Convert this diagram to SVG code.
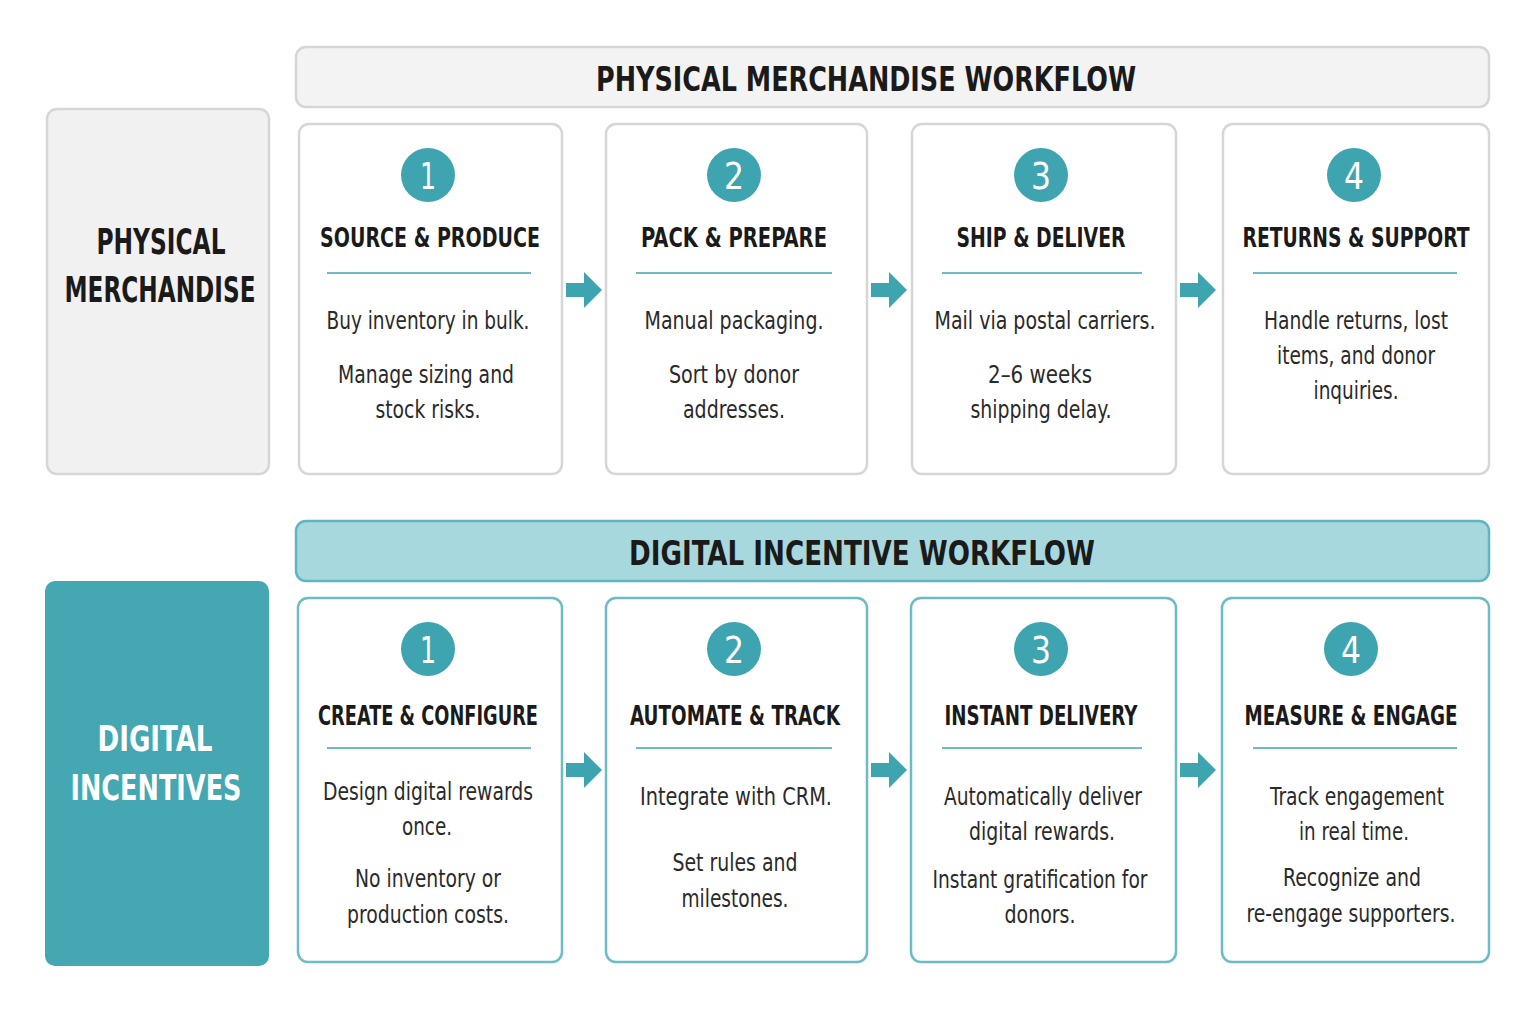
<svg xmlns="http://www.w3.org/2000/svg" width="1535" height="1013" viewBox="0 0 1535 1013">
<style>
text{font-family:"DejaVu Sans","Liberation Sans",sans-serif;font-stretch:condensed;text-anchor:middle;fill:#1a1a1a}
.card{fill:#fff;stroke:#d6d6d6;stroke-width:2.5}
.dcard{fill:#fff;stroke:#6bbcc4;stroke-width:2.5}
.num{fill:#3ea5b0}
.nt{fill:#fff;font-size:38px}
.ttl{font-size:27px;font-weight:bold}
.body{font-size:25px;fill:#2a2a2a}
.sep{stroke:#6bbcc4;stroke-width:2}
.arr{fill:#3ea5b0}
</style>
<rect width="1535" height="1013" fill="#fff"/>
<g id="phys-label"><rect x="47" y="109" width="222" height="365" rx="10" fill="#f1f1f1" stroke="#d6d6d6" stroke-width="2.5"/>
<text x="161" y="254" style="font-size:35px;font-weight:bold" textLength="129" lengthAdjust="spacingAndGlyphs">PHYSICAL</text><text x="160" y="302" style="font-size:35px;font-weight:bold" textLength="191" lengthAdjust="spacingAndGlyphs">MERCHANDISE</text></g>
<g id="phys-header"><rect x="296" y="47" width="1193" height="60" rx="10" fill="#f3f3f3" stroke="#d6d6d6" stroke-width="2.5"/>
<text x="866" y="91" style="font-size:34px;font-weight:bold" textLength="540" lengthAdjust="spacingAndGlyphs">PHYSICAL MERCHANDISE WORKFLOW</text></g>
<g id="p1"><rect class="card" x="299" y="124" width="263" height="350" rx="10"/><circle class="num" cx="428" cy="175" r="27"/><text class="nt" x="428" y="189" textLength="16" lengthAdjust="spacingAndGlyphs">1</text>
<text class="ttl" x="430" y="247" textLength="220" lengthAdjust="spacingAndGlyphs">SOURCE &amp; PRODUCE</text><line class="sep" x1="327" y1="273" x2="531" y2="273"/>
<text class="body" x="428" y="329" textLength="203" lengthAdjust="spacingAndGlyphs">Buy inventory in bulk.</text><text class="body" x="426" y="383" textLength="176" lengthAdjust="spacingAndGlyphs">Manage sizing and</text><text class="body" x="428" y="418" textLength="105" lengthAdjust="spacingAndGlyphs">stock risks.</text></g>
<g id="p2"><rect class="card" x="606" y="124" width="261" height="350" rx="10"/><circle class="num" cx="734" cy="175" r="27"/><text class="nt" x="734" y="189" textLength="20" lengthAdjust="spacingAndGlyphs">2</text>
<text class="ttl" x="734" y="247" textLength="186" lengthAdjust="spacingAndGlyphs">PACK &amp; PREPARE</text><line class="sep" x1="636" y1="273" x2="832" y2="273"/>
<text class="body" x="734" y="329" textLength="179" lengthAdjust="spacingAndGlyphs">Manual packaging.</text><text class="body" x="734" y="383" textLength="130" lengthAdjust="spacingAndGlyphs">Sort by donor</text><text class="body" x="734" y="418" textLength="102" lengthAdjust="spacingAndGlyphs">addresses.</text></g>
<g id="p3"><rect class="card" x="912" y="124" width="264" height="350" rx="10"/><circle class="num" cx="1041" cy="175" r="27"/><text class="nt" x="1041" y="189" textLength="20" lengthAdjust="spacingAndGlyphs">3</text>
<text class="ttl" x="1041" y="247" textLength="169" lengthAdjust="spacingAndGlyphs">SHIP &amp; DELIVER</text><line class="sep" x1="942" y1="273" x2="1142" y2="273"/>
<text class="body" x="1045" y="329" textLength="221" lengthAdjust="spacingAndGlyphs">Mail via postal carriers.</text><text class="body" x="1040" y="383" textLength="104" lengthAdjust="spacingAndGlyphs">2–6 weeks</text><text class="body" x="1041" y="418" textLength="141" lengthAdjust="spacingAndGlyphs">shipping delay.</text></g>
<g id="p4"><rect class="card" x="1223" y="124" width="266" height="350" rx="10"/><circle class="num" cx="1354" cy="175" r="27"/><text class="nt" x="1354" y="189" textLength="20" lengthAdjust="spacingAndGlyphs">4</text>
<text class="ttl" x="1356" y="247" textLength="227" lengthAdjust="spacingAndGlyphs">RETURNS &amp; SUPPORT</text><line class="sep" x1="1253" y1="273" x2="1457" y2="273"/>
<text class="body" x="1356" y="329" textLength="184" lengthAdjust="spacingAndGlyphs">Handle returns, lost</text><text class="body" x="1356" y="364" textLength="158" lengthAdjust="spacingAndGlyphs">items, and donor</text><text class="body" x="1356" y="399" textLength="85" lengthAdjust="spacingAndGlyphs">inquiries.</text></g>
<g id="dig-label"><rect x="45" y="581" width="224" height="385" rx="10" fill="#44a7b2"/>
<text x="155" y="751" style="font-size:35px;font-weight:bold;fill:#fff" textLength="115" lengthAdjust="spacingAndGlyphs">DIGITAL</text><text x="156" y="800" style="font-size:35px;font-weight:bold;fill:#fff" textLength="171" lengthAdjust="spacingAndGlyphs">INCENTIVES</text></g>
<g id="dig-header"><rect x="296" y="521" width="1193" height="60" rx="10" fill="#a6d8de" stroke="#5fb6c0" stroke-width="2.5"/>
<text x="862" y="565" style="font-size:34px;font-weight:bold" textLength="466" lengthAdjust="spacingAndGlyphs">DIGITAL INCENTIVE WORKFLOW</text></g>
<g id="d1"><rect class="dcard" x="298" y="598" width="264" height="364" rx="10"/><circle class="num" cx="428" cy="649" r="27"/><text class="nt" x="428" y="663" textLength="16" lengthAdjust="spacingAndGlyphs">1</text>
<text class="ttl" x="428" y="725" textLength="220" lengthAdjust="spacingAndGlyphs">CREATE &amp; CONFIGURE</text><line class="sep" x1="327" y1="748" x2="531" y2="748"/>
<text class="body" x="428" y="800" textLength="210" lengthAdjust="spacingAndGlyphs">Design digital rewards</text><text class="body" x="427" y="835" textLength="50" lengthAdjust="spacingAndGlyphs">once.</text><text class="body" x="428" y="887" textLength="146" lengthAdjust="spacingAndGlyphs">No inventory or</text><text class="body" x="428" y="923" textLength="162" lengthAdjust="spacingAndGlyphs">production costs.</text></g>
<g id="d2"><rect class="dcard" x="606" y="598" width="261" height="364" rx="10"/><circle class="num" cx="734" cy="649" r="27"/><text class="nt" x="734" y="663" textLength="20" lengthAdjust="spacingAndGlyphs">2</text>
<text class="ttl" x="735" y="725" textLength="210" lengthAdjust="spacingAndGlyphs">AUTOMATE &amp; TRACK</text><line class="sep" x1="636" y1="748" x2="832" y2="748"/>
<text class="body" x="736" y="805" textLength="192" lengthAdjust="spacingAndGlyphs">Integrate with CRM.</text><text class="body" x="735" y="871" textLength="125" lengthAdjust="spacingAndGlyphs">Set rules and</text><text class="body" x="735" y="907" textLength="107" lengthAdjust="spacingAndGlyphs">milestones.</text></g>
<g id="d3"><rect class="dcard" x="911" y="598" width="265" height="364" rx="10"/><circle class="num" cx="1041" cy="649" r="27"/><text class="nt" x="1041" y="663" textLength="20" lengthAdjust="spacingAndGlyphs">3</text>
<text class="ttl" x="1041" y="725" textLength="193" lengthAdjust="spacingAndGlyphs">INSTANT DELIVERY</text><line class="sep" x1="942" y1="748" x2="1142" y2="748"/>
<text class="body" x="1043" y="805" textLength="198" lengthAdjust="spacingAndGlyphs">Automatically deliver</text><text class="body" x="1042" y="840" textLength="146" lengthAdjust="spacingAndGlyphs">digital rewards.</text><text class="body" x="1040" y="888" textLength="215" lengthAdjust="spacingAndGlyphs">Instant gratification for</text><text class="body" x="1040" y="923" textLength="71" lengthAdjust="spacingAndGlyphs">donors.</text></g>
<g id="d4"><rect class="dcard" x="1222" y="598" width="267" height="364" rx="10"/><circle class="num" cx="1351" cy="649" r="27"/><text class="nt" x="1351" y="663" textLength="20" lengthAdjust="spacingAndGlyphs">4</text>
<text class="ttl" x="1351" y="725" textLength="213" lengthAdjust="spacingAndGlyphs">MEASURE &amp; ENGAGE</text><line class="sep" x1="1253" y1="748" x2="1457" y2="748"/>
<text class="body" x="1357" y="805" textLength="174" lengthAdjust="spacingAndGlyphs">Track engagement</text><text class="body" x="1354" y="840" textLength="110" lengthAdjust="spacingAndGlyphs">in real time.</text><text class="body" x="1352" y="886" textLength="138" lengthAdjust="spacingAndGlyphs">Recognize and</text><text class="body" x="1351" y="922" textLength="209" lengthAdjust="spacingAndGlyphs">re-engage supporters.</text></g>
<g id="connectors">
<path class="arr" d="M566,283h18v-11l18,18l-18,18v-11h-18z"/>
<path class="arr" d="M871,283h18v-11l18,18l-18,18v-11h-18z"/>
<path class="arr" d="M1180,283h18v-11l18,18l-18,18v-11h-18z"/>
<path class="arr" d="M566,763h18v-11l18,18l-18,18v-11h-18z"/>
<path class="arr" d="M871,763h18v-11l18,18l-18,18v-11h-18z"/>
<path class="arr" d="M1180,763h18v-11l18,18l-18,18v-11h-18z"/>
</g>
</svg>
